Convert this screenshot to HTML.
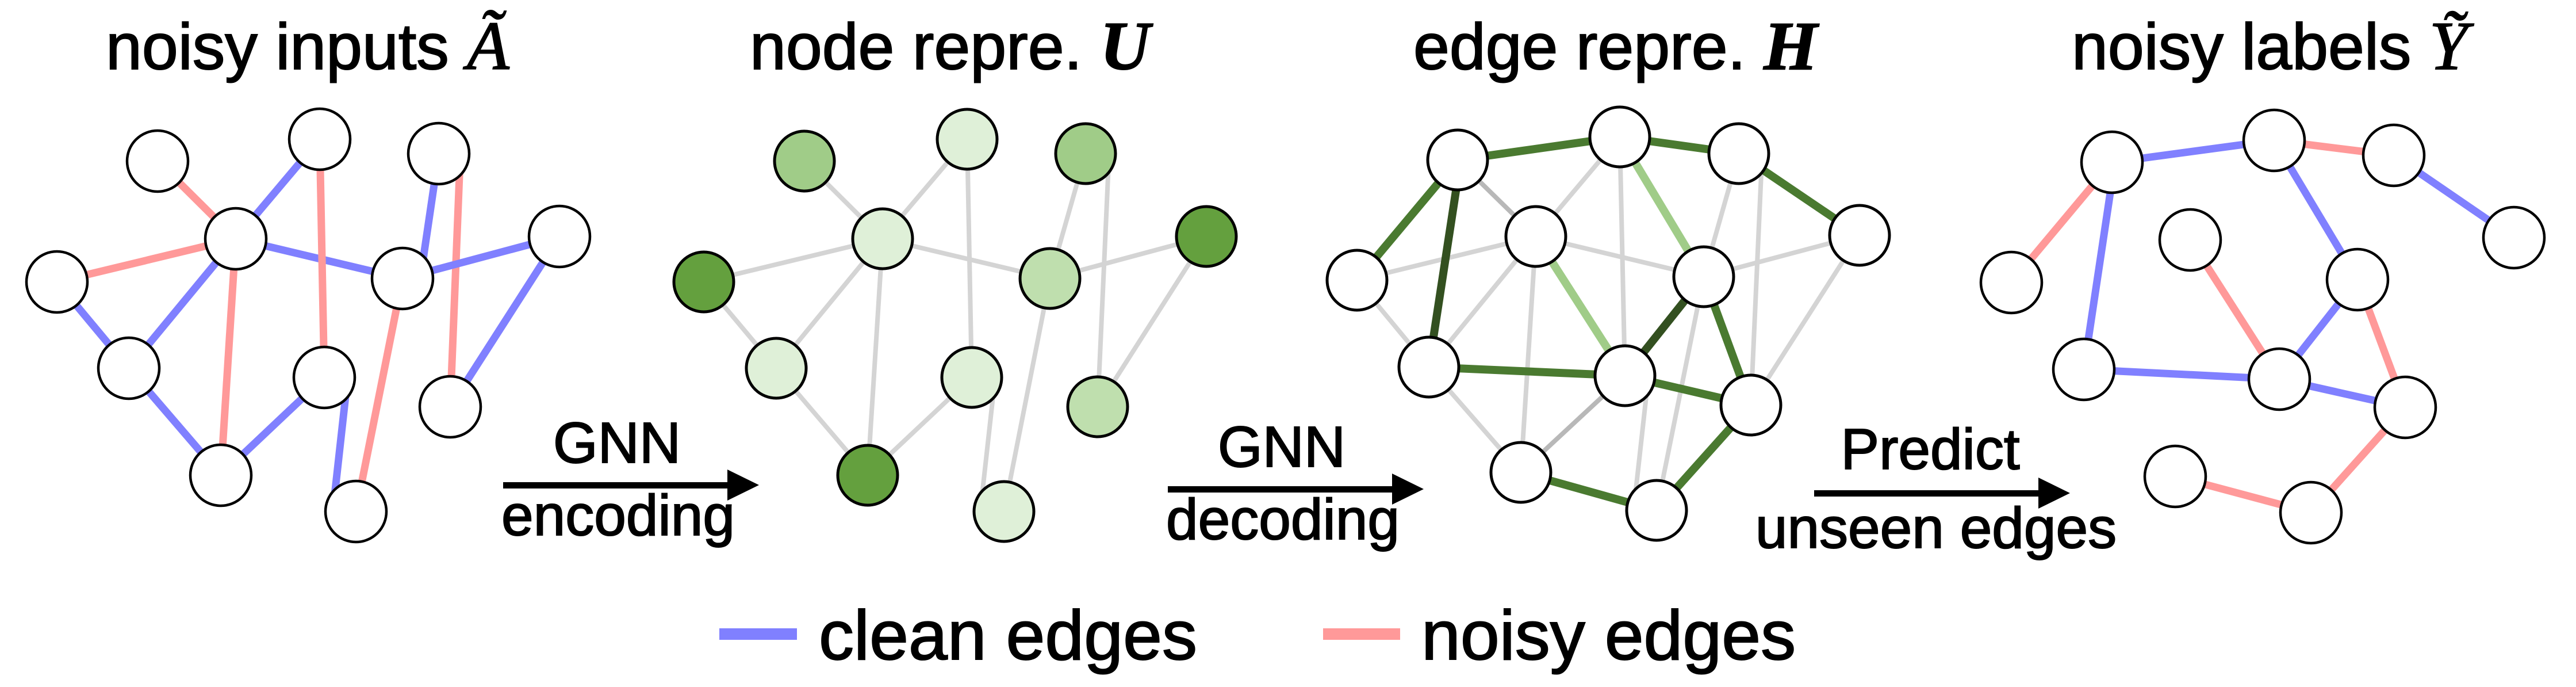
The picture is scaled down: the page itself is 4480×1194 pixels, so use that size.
<!DOCTYPE html>
<html><head><meta charset="utf-8"><style>
html,body{margin:0;padding:0;background:#fff;}
svg{display:block;}
text{font-family:"Liberation Sans",sans-serif;fill:#000;stroke:#000;stroke-width:2;}
.m{font-family:"Liberation Serif",serif;font-style:italic;}
</style></head><body>
<svg width="4480" height="1194" viewBox="0 0 4480 1194" xmlns="http://www.w3.org/2000/svg">
<!-- Titles -->
<text x="184" y="120" font-size="113">noisy inputs <tspan class="m" font-size="120">Ã</tspan></text>
<text x="1304" y="120" font-size="113">node repre. <tspan class="m" font-weight="bold" font-size="120">U</tspan></text>
<text x="2458" y="120" font-size="113">edge repre. <tspan class="m" font-weight="bold" font-size="120">H</tspan></text>
<text x="3603" y="120" font-size="113">noisy labels <tspan class="m" font-size="120">Ỹ</tspan></text>

<!-- Panel 1 edges -->
<g stroke-width="13" stroke-linecap="butt">
<line x1="274" y1="280" x2="410" y2="415" stroke="#ff9999"/>
<line x1="410" y1="415" x2="556" y2="242" stroke="#8080ff"/>
<line x1="410" y1="415" x2="99" y2="490" stroke="#ff9999"/>
<line x1="410" y1="415" x2="224" y2="640" stroke="#8080ff"/>
<line x1="410" y1="415" x2="384" y2="826" stroke="#ff9999"/>
<line x1="410" y1="415" x2="700" y2="484" stroke="#8080ff"/>
<line x1="556" y1="242" x2="564" y2="656" stroke="#ff9999"/>
<line x1="763" y1="267" x2="736" y2="450" stroke="#8080ff"/>
<line x1="800" y1="280" x2="783" y2="707" stroke="#ff9999"/>
<line x1="700" y1="484" x2="973" y2="411" stroke="#8080ff"/>
<line x1="973" y1="411" x2="783" y2="707" stroke="#8080ff"/>
<line x1="99" y1="490" x2="224" y2="640" stroke="#8080ff"/>
<line x1="224" y1="640" x2="384" y2="826" stroke="#8080ff"/>
<line x1="384" y1="826" x2="564" y2="656" stroke="#8080ff"/>
<line x1="602" y1="680" x2="582" y2="860" stroke="#8080ff"/>
<line x1="700" y1="484" x2="619" y2="889" stroke="#ff9999"/>
</g>
<g fill="#fff" stroke="#000" stroke-width="4.5">
<circle cx="274" cy="280" r="53"/><circle cx="556" cy="242" r="53"/><circle cx="763" cy="267" r="53"/>
<circle cx="410" cy="415" r="53"/><circle cx="99" cy="490" r="53"/><circle cx="700" cy="484" r="53"/>
<circle cx="973" cy="411" r="53"/><circle cx="224" cy="640" r="53"/><circle cx="564" cy="656" r="53"/>
<circle cx="783" cy="707" r="53"/><circle cx="384" cy="826" r="53"/><circle cx="619" cy="889" r="53"/>
</g>

<!-- Panel 2 -->
<g stroke="#d4d4d4" stroke-width="8">
<line x1="1399" y1="280" x2="1535" y2="415"/>
<line x1="1535" y1="415" x2="1682" y2="242"/>
<line x1="1535" y1="415" x2="1224" y2="490"/>
<line x1="1535" y1="415" x2="1350" y2="640"/>
<line x1="1535" y1="415" x2="1509" y2="826"/>
<line x1="1535" y1="415" x2="1826" y2="484"/>
<line x1="1682" y1="242" x2="1690" y2="656"/>
<line x1="1888" y1="267" x2="1826" y2="484"/>
<line x1="1928" y1="285" x2="1909" y2="707"/>
<line x1="1826" y1="484" x2="2098" y2="411"/>
<line x1="2098" y1="411" x2="1909" y2="707"/>
<line x1="1224" y1="490" x2="1350" y2="640"/>
<line x1="1350" y1="640" x2="1509" y2="826"/>
<line x1="1509" y1="826" x2="1690" y2="656"/>
<line x1="1728" y1="680" x2="1708" y2="860"/>
<line x1="1826" y1="484" x2="1746" y2="889"/>
</g>
<g stroke="#000" stroke-width="5">
<circle cx="1399" cy="280" r="52" fill="#a0cc88"/><circle cx="1682" cy="242" r="52" fill="#dff0d8"/><circle cx="1888" cy="267" r="52" fill="#a0cc88"/>
<circle cx="1535" cy="415" r="52" fill="#dff0d8"/><circle cx="1224" cy="490" r="52" fill="#64a03e"/><circle cx="1826" cy="484" r="52" fill="#bfdfae"/>
<circle cx="2098" cy="411" r="52" fill="#64a03e"/><circle cx="1350" cy="640" r="52" fill="#dff0d8"/><circle cx="1690" cy="656" r="52" fill="#dff0d8"/>
<circle cx="1909" cy="707" r="52" fill="#bfdfae"/><circle cx="1509" cy="826" r="52" fill="#64a03e"/><circle cx="1746" cy="889" r="52" fill="#dff0d8"/>
</g>

<!-- Panel 3 -->
<g stroke="#d4d4d4" stroke-width="8">
<line x1="2535" y1="278" x2="2671" y2="411" stroke="#b8b8b8"/>
<line x1="2671" y1="411" x2="2817" y2="238"/>
<line x1="2671" y1="411" x2="2360" y2="487"/>
<line x1="2671" y1="411" x2="2963" y2="481"/>
<line x1="2360" y1="487" x2="2485" y2="638"/>
<line x1="2671" y1="411" x2="2485" y2="638"/>
<line x1="2671" y1="411" x2="2645" y2="821"/>
<line x1="2817" y1="238" x2="2826" y2="653"/>
<line x1="3024" y1="267" x2="2963" y2="481"/>
<line x1="3064" y1="280" x2="3045" y2="704"/>
<line x1="2963" y1="481" x2="3234" y2="409"/>
<line x1="3234" y1="409" x2="3045" y2="704"/>
<line x1="2485" y1="638" x2="2645" y2="821"/>
<line x1="2826" y1="653" x2="2645" y2="821" stroke="#b8b8b8"/>
<line x1="2864" y1="680" x2="2844" y2="860"/>
<line x1="2963" y1="481" x2="2881" y2="887"/>
</g>
<g stroke-width="14">
<line x1="2535" y1="278" x2="2817" y2="238" stroke="#4a7a30"/>
<line x1="2817" y1="238" x2="3024" y2="267" stroke="#4a7a30"/>
<line x1="2360" y1="487" x2="2535" y2="278" stroke="#4a7a30"/>
<line x1="3024" y1="267" x2="3234" y2="409" stroke="#4a7a30"/>
<line x1="2485" y1="638" x2="2826" y2="653" stroke="#4a7a30"/>
<line x1="2826" y1="653" x2="3045" y2="704" stroke="#4a7a30"/>
<line x1="3045" y1="704" x2="2881" y2="887" stroke="#4a7a30"/>
<line x1="2645" y1="821" x2="2881" y2="887" stroke="#4a7a30"/>
<line x1="2963" y1="481" x2="3045" y2="704" stroke="#4a7a30"/>
<line x1="2540" y1="280" x2="2485" y2="638" stroke="#335020"/>
<line x1="2826" y1="653" x2="2963" y2="481" stroke="#335020"/>
<line x1="2817" y1="238" x2="2963" y2="481" stroke="#a0cc88"/>
<line x1="2671" y1="411" x2="2826" y2="653" stroke="#a0cc88"/>
</g>
<g fill="#fff" stroke="#000" stroke-width="5">
<circle cx="2535" cy="278" r="52"/><circle cx="2817" cy="238" r="52"/><circle cx="3024" cy="267" r="52"/>
<circle cx="2671" cy="411" r="52"/><circle cx="2360" cy="487" r="52"/><circle cx="2963" cy="481" r="52"/>
<circle cx="3234" cy="409" r="52"/><circle cx="2485" cy="638" r="52"/><circle cx="2826" cy="653" r="52"/>
<circle cx="3045" cy="704" r="52"/><circle cx="2645" cy="821" r="52"/><circle cx="2881" cy="887" r="52"/>
</g>

<!-- Panel 4 -->
<g stroke-width="13">
<line x1="3498" y1="491" x2="3673" y2="282" stroke="#ff9999"/>
<line x1="3673" y1="282" x2="3955" y2="244" stroke="#8080ff"/>
<line x1="3955" y1="244" x2="4163" y2="270" stroke="#ff9999"/>
<line x1="4163" y1="270" x2="4372" y2="413" stroke="#8080ff"/>
<line x1="3678" y1="282" x2="3624" y2="642" stroke="#8080ff"/>
<line x1="3955" y1="244" x2="4100" y2="486" stroke="#8080ff"/>
<line x1="3809" y1="417" x2="3964" y2="659" stroke="#ff9999"/>
<line x1="4100" y1="486" x2="3964" y2="659" stroke="#8080ff"/>
<line x1="4100" y1="486" x2="4183" y2="708" stroke="#ff9999"/>
<line x1="3624" y1="642" x2="3964" y2="659" stroke="#8080ff"/>
<line x1="3964" y1="659" x2="4183" y2="708" stroke="#8080ff"/>
<line x1="4183" y1="708" x2="4019" y2="891" stroke="#ff9999"/>
<line x1="3783" y1="828" x2="4019" y2="891" stroke="#ff9999"/>
</g>
<g fill="#fff" stroke="#000" stroke-width="4.5">
<circle cx="3673" cy="282" r="53"/><circle cx="3955" cy="244" r="53"/><circle cx="4163" cy="270" r="53"/>
<circle cx="3809" cy="417" r="53"/><circle cx="3498" cy="491" r="53"/><circle cx="4100" cy="486" r="53"/>
<circle cx="4372" cy="413" r="53"/><circle cx="3624" cy="642" r="53"/><circle cx="3964" cy="659" r="53"/>
<circle cx="4183" cy="708" r="53"/><circle cx="3783" cy="828" r="53"/><circle cx="4019" cy="891" r="53"/>
</g>

<!-- Arrows -->
<g fill="#000">
<rect x="875" y="838" width="395" height="11"/><polygon points="1265,816 1320,843 1265,870"/>
<rect x="2031" y="845" width="395" height="11"/><polygon points="2421,823 2476,850 2421,877"/>
<rect x="3155" y="852" width="395" height="11"/><polygon points="3545,830 3600,857 3545,884"/>
</g>
<g font-size="100" text-anchor="middle">
<text x="1073" y="804">GNN</text>
<text x="1075" y="930">encoding</text>
<text x="2229" y="811">GNN</text>
<text x="2231" y="937">decoding</text>
<text x="3357" y="815">Predict</text>
<text x="3367" y="952">unseen edges</text>
</g>

<!-- Legend -->
<rect x="1251" y="1092" width="135" height="20" fill="#8080ff"/>
<text x="1424" y="1146" font-size="122">clean edges</text>
<rect x="2301" y="1092" width="134" height="20" fill="#ff9999"/>
<text x="2472" y="1146" font-size="122">noisy edges</text>
</svg>
</body></html>
